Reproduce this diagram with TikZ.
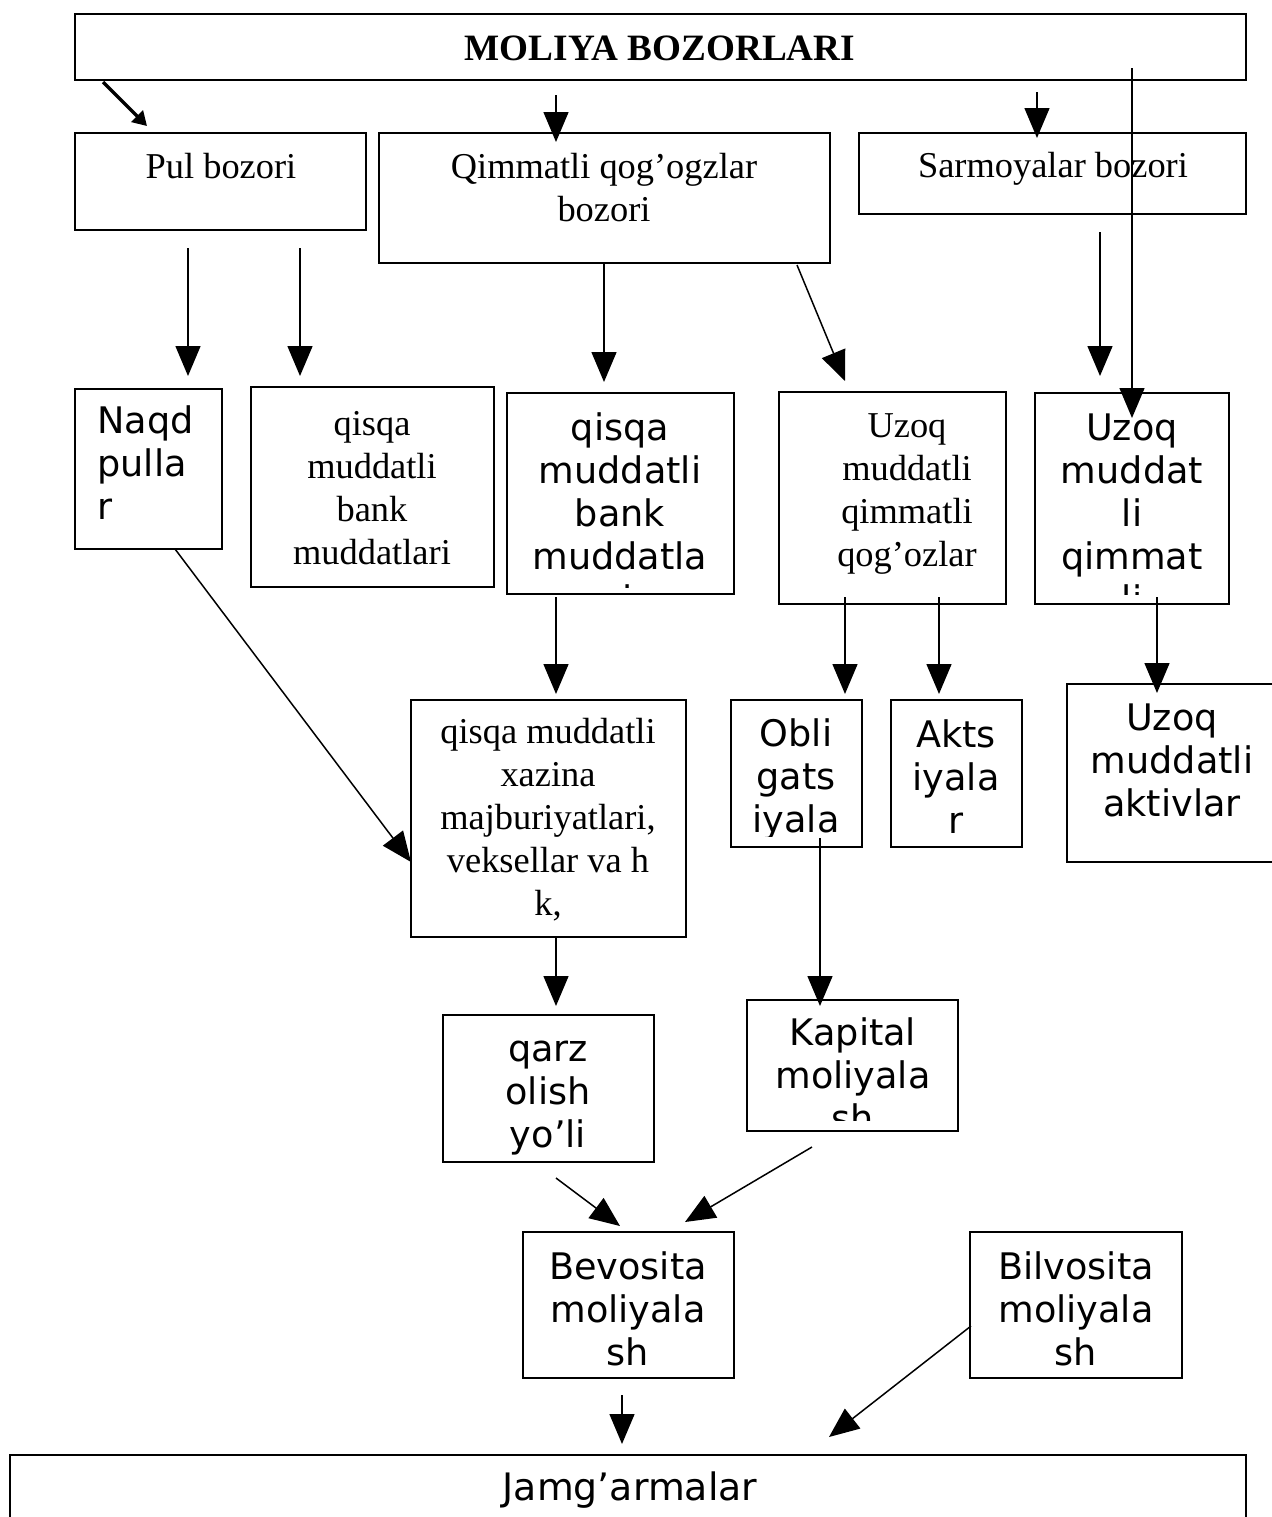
\documentclass[tikz,border=0pt]{standalone}
\usepackage{fontspec}
\setmainfont{Liberation Serif}
\newfontfamily\dvsans{DejaVu Sans}
\usetikzlibrary{arrows.meta,fit}
\tikzset{
  bx/.style={draw, line width=1pt, inner sep=0pt},
  serl/.style={inner sep=0pt, align=center, font=\fontsize{18.2}{21.5}\selectfont},
  sanl/.style={inner sep=0pt, align=center, font=\dvsans\fontsize{18.3}{21.5}\selectfont},
  arr/.style={line width=0.75pt, -{Triangle[length=15pt,width=12.5pt]}},
  thickarr/.style={line width=1.6pt, -{Triangle[length=7pt,width=8pt]}},
}
\newcommand\clippedtext[6]{% x1 y1 x2 y2 style+position text
  \begin{scope}\clip (#1,#2) rectangle (#3,#4); #5 {#6}; \end{scope}}
\begin{document}
\begin{tikzpicture}[x=0.5pt,y=-0.5pt]
\useasboundingbox (0,0) rectangle (1272,1517);
% boxes
\node[bx, fit={(75,14)(1246,80)}] (top) {};
\node[bx, fit={(75,133)(366,230)}] (pul) {};
\node[bx, fit={(379,133)(830,263)}] (qim) {};
\node[bx, fit={(859,133)(1246,214)}] (sar) {};
\node[bx, fit={(75,389)(222,549)}] (naqd) {};
\node[bx, fit={(251,387)(494,587)}] (qbs) {};
\node[bx, fit={(507,393)(734,594)}] (qbd) {};
\node[bx, fit={(779,392)(1006,604)}] (uqs) {};
\node[bx, fit={(1035,393)(1229,604)}] (uqd) {};
\node[bx, fit={(411,700)(686,937)}] (xaz) {};
\node[bx, fit={(731,700)(862,847)}] (obl) {};
\node[bx, fit={(891,700)(1022,847)}] (akt) {};
\node[bx, fit={(1067,684)(1274,862)}] (uma) {};
\node[bx, fit={(443,1015)(654,1162)}] (qarz) {};
\node[bx, fit={(747,1000)(958,1131)}] (kap) {};
\node[bx, fit={(523,1232)(734,1378)}] (bev) {};
\node[bx, fit={(970,1232)(1182,1378)}] (bil) {};
\node[bx, fit={(10,1455)(1246,1530)}] (jam) {};
% texts
\node[serl, font=\bfseries\fontsize{18.6}{21.5}\selectfont] (ttop) at (660,48) {MOLIYA BOZORLARI};
\node[serl] (tpul) at (221,166) {Pul bozori};
\node[serl] (tqim) at (604,188) {Qimmatli qog’ogzlar\\bozori};
\node[serl] (tsar) at (1053,169) {Sarmoyalar bozori};
\node[sanl, align=left, anchor=west] (tnaqd) at (97,463) {Naqd\\pulla\\r};
\node[serl] (tqbs) at (372,488) {qisqa\\muddatli\\bank\\muddatlari};
\clippedtext{507}{393}{734}{587}{\node[sanl] (tqbd) at (620,513)}{qisqa\\muddatli\\bank\\muddatla\\ri}
\node[serl] (tuqs) at (907,494) {Uzoq\\muddatli\\qimmatli\\qog’ozlar};
\clippedtext{1035}{393}{1229}{594}{\node[sanl] (tuqd) at (1132,513)}{Uzoq\\muddat\\li\\qimmat\\li}
\node[serl] (txaz) at (548,820) {qisqa muddatli\\xazina\\majburiyatlari,\\veksellar va h\\k,};
\clippedtext{731}{700}{862}{836}{\node[sanl] (tobl) at (796,797)}{Obli\\gats\\iyala\\r}
\node[sanl] (takt) at (956,777) {Akts\\iyala\\r};
\node[sanl] (tuma) at (1172,760) {Uzoq\\muddatli\\aktivlar};
\clippedtext{443}{1015}{654}{1155}{\node[sanl] (tqarz) at (548,1098)}{qarz\\olish\\yo’li}
\clippedtext{747}{1000}{958}{1120}{\node[sanl] (tkap) at (853,1075)}{Kapital\\moliyala\\sh}
\node[sanl] (tbev) at (628,1309) {Bevosita\\moliyala\\sh};
\node[sanl] (tbil) at (1076,1309) {Bilvosita\\moliyala\\sh};
\node[sanl, font=\dvsans\fontsize{18.9}{21.5}\selectfont] (tjam) at (630,1490) {Jamg’armalar};
% connector end points
\coordinate (a1s) at (103,82);   \coordinate (a1e) at (147,126);
\coordinate (a2s) at (556,95);   \coordinate (a2e) at (556,142);
\coordinate (a3s) at (1037,92);  \coordinate (a3e) at (1037,138);
\coordinate (a4s) at (1132,68);  \coordinate (a4e) at (1132,418);
\coordinate (b1s) at (188,248);  \coordinate (b1e) at (188,376);
\coordinate (b2s) at (300,248);  \coordinate (b2e) at (300,376);
\coordinate (b3s) at (604,264);  \coordinate (b3e) at (604,382);
\coordinate (b4s) at (797,265);  \coordinate (b4e) at (845,381);
\coordinate (b5s) at (1100,232); \coordinate (b5e) at (1100,376);
\coordinate (c1s) at (556,597);  \coordinate (c1e) at (556,694);
\coordinate (c2s) at (845,597);  \coordinate (c2e) at (845,694);
\coordinate (c3s) at (939,597);  \coordinate (c3e) at (939,694);
\coordinate (c4s) at (1157,597); \coordinate (c4e) at (1157,693);
\coordinate (c5s) at (175,549);  \coordinate (c5e) at (411,862);
\coordinate (d1s) at (556,937);  \coordinate (d1e) at (556,1006);
\coordinate (d2s) at (820,838);  \coordinate (d2e) at (820,1006);
\coordinate (e1s) at (556,1178); \coordinate (e1e) at (620,1226);
\coordinate (e2s) at (812,1147); \coordinate (e2e) at (685,1222);
\coordinate (f1s) at (622,1395); \coordinate (f1e) at (622,1444);
\coordinate (f2s) at (971,1326); \coordinate (f2e) at (829,1437);
% connectors
\draw[thickarr] (a1s) -- (a1e);
\draw[arr] (a2s) -- (a2e);
\draw[arr] (a3s) -- (a3e);
\draw[arr] (a4s) -- (a4e);
\draw[arr] (b1s) -- (b1e);
\draw[arr] (b2s) -- (b2e);
\draw[arr] (b3s) -- (b3e);
\draw[arr] (b4s) -- (b4e);
\draw[arr] (b5s) -- (b5e);
\draw[arr] (c1s) -- (c1e);
\draw[arr] (c2s) -- (c2e);
\draw[arr] (c3s) -- (c3e);
\draw[arr] (c4s) -- (c4e);
\draw[arr] (c5s) -- (c5e);
\draw[arr] (d1s) -- (d1e);
\draw[arr] (d2s) -- (d2e);
\draw[arr] (e1s) -- (e1e);
\draw[arr] (e2s) -- (e2e);
\draw[arr] (f1s) -- (f1e);
\draw[arr] (f2s) -- (f2e);
\end{tikzpicture}
\end{document}
